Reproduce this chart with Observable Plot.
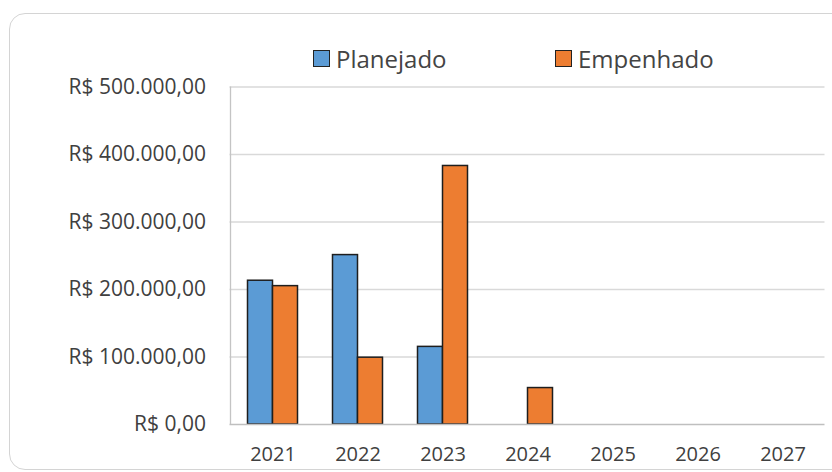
<!DOCTYPE html>
<html>
<head>
<meta charset="utf-8">
<script src="https://cdn.jsdelivr.net/npm/d3@7"></script>
<script src="https://cdn.jsdelivr.net/npm/@observablehq/plot@0.6"></script>
<style>
html, body { margin: 0; padding: 0; background: #fff; }
body { width: 832px; height: 472px; position: relative; overflow: hidden; font-family: "Open Sans", sans-serif; }
#frame { position: absolute; left: 9px; top: 13px; width: 850px; height: 457px; border: 1.5px solid #d4d4d4; border-radius: 16px; box-sizing: border-box; pointer-events: none; }
#legend { position: relative; height: 70px; }
#legend .items { position: absolute; left: 313px; top: 45px; height: 27px; display: flex; align-items: center; }
#legend .item { display: flex; align-items: center; font-size: 24px; color: #444; line-height: 1; }
#legend .item:first-child { width: 242px; }
#legend .sw { width: 15px; height: 15px; border: 1px solid #222; margin-right: 6px; box-sizing: content-box; }
#chart { position: relative; }
</style>
</head>
<body>
<div id="frame"></div>
<div id="legend"><div class="items"></div></div>
<div id="chart"></div>
<script>
const years = ["2021", "2022", "2023", "2024", "2025", "2026", "2027"];
const planejado = [213000, 251000, 115000, 0, 0, 0, 0];
const empenhado = [205000, 99000, 383000, 54000, 0, 0, 0];
const seriesNames = ["Planejado", "Empenhado"];
const seriesColors = ["#5B9BD5", "#ED7D31"];
const yTicks = [0, 100000, 200000, 300000, 400000, 500000];

const rows = years.flatMap((year, i) => [
  {year, series: seriesNames[0], value: planejado[i]},
  {year, series: seriesNames[1], value: empenhado[i]}
]);

const brl = d3.formatLocale({decimal: ",", thousands: ".", grouping: [3], currency: ["R$ ", ""]}).format("$,.2f");

// legend
const items = d3.select("#legend .items");
seriesNames.forEach((name, i) => {
  const it = items.append("div").attr("class", "item");
  it.append("div").attr("class", "sw").style("background", seriesColors[i]);
  it.append("span").text(name);
});

const chart = Plot.plot({
  width: 832,
  height: 402,
  marginTop: 16.5,
  marginBottom: 48,
  marginLeft: 229.5,
  marginRight: 7.5,
  style: {fontFamily: "Open Sans", color: "#404040", background: "transparent"},
  x: {type: "band", domain: years, padding: 0, label: null},
  y: {domain: [0, 500000], label: null},
  color: {domain: seriesNames, range: seriesColors},
  marks: [
    Plot.ruleY(yTicks.slice(1), {stroke: "#d9d9d9", strokeWidth: 1.3}),
    Plot.ruleX([years[0]], {x: d => d, y1: 0, y2: yTicks[yTicks.length - 1], dx: -42.5, stroke: "#c4c4c4", strokeWidth: 1.3}),
    Plot.barY(rows, {filter: d => d.series === seriesNames[0] && d.value > 0, x: "year", y: "value", fill: "series", stroke: "#1e1e1e", strokeWidth: 1.5, insetLeft: 17.5, insetRight: 42.5}),
    Plot.barY(rows, {filter: d => d.series === seriesNames[1] && d.value > 0, x: "year", y: "value", fill: "series", stroke: "#1e1e1e", strokeWidth: 1.5, insetLeft: 42.5, insetRight: 17.5}),
    Plot.ruleY([0], {stroke: "#bfbfbf", strokeWidth: 1.3}),
    Plot.axisX({tickSize: 0, tickPadding: 22, fontSize: 20, label: null}),
    Plot.axisY({ticks: yTicks, tickFormat: brl, tickSize: 0, tickPadding: 24, fontSize: 21, label: null})
  ]
});
document.getElementById("chart").appendChild(chart);
</script>
</body>
</html>
